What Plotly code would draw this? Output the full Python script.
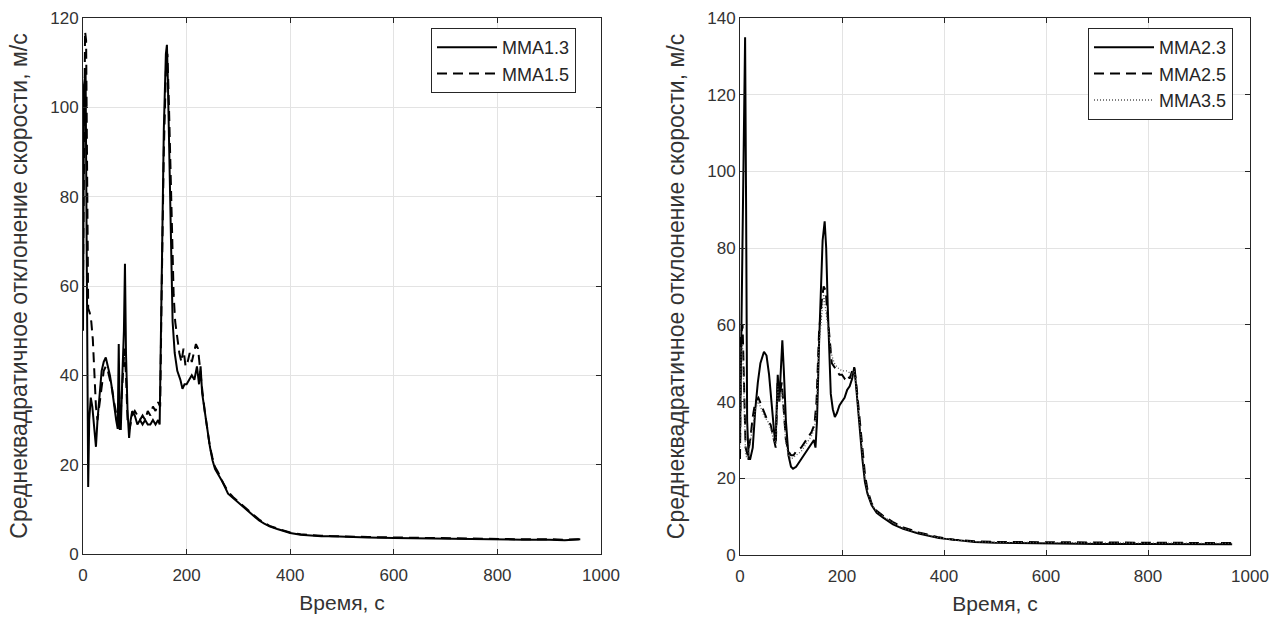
import plotly.graph_objects as go

# ---------------- Left panel data ----------------
t_mma13 = [0, 2, 5, 8, 10, 12, 15, 18, 22, 25, 28, 32, 36, 40, 44, 48, 52, 56, 60, 64, 67,
           69, 71, 73, 76, 79, 81, 83, 86, 89, 92, 95, 100, 105, 110, 115, 120, 125, 130,
           135, 140, 145, 148, 150, 153, 156, 160, 162, 164, 167, 170, 173, 177, 182, 188,
           192, 196, 200, 205, 210, 215, 220, 224, 227, 230, 235, 240, 245, 250, 255, 260,
           270, 280, 290, 300, 310, 320, 330, 340, 350, 360, 375, 390, 400, 420, 440, 460,
           480, 500, 550, 600, 650, 700, 750, 800, 850, 900, 930, 960]
v_mma13 = [50, 105, 108, 60, 15, 30, 35, 33, 28, 24, 30, 36, 41, 43, 44, 42, 40, 37, 33, 30, 28,
           47, 28, 28, 40, 50, 65, 45, 32, 26, 30, 32, 31, 29, 30, 29, 30, 29, 29,
           30, 29, 30, 29, 45, 70, 95, 112, 114, 105, 85, 65, 52, 45, 41, 39,
           37, 38, 38, 39, 40, 39, 42, 38, 42, 36, 32, 27, 24, 21, 19, 18,
           16, 13.5, 12.5, 11.5, 10.5, 9.5, 8.5, 7.5, 6.8, 6.2, 5.6, 5.0, 4.7, 4.3, 4.1, 4.0,
           4.0, 3.9, 3.7, 3.6, 3.5, 3.4, 3.3, 3.3, 3.2, 3.2, 3.1, 3.3]

t_mma15 = [0, 2, 4, 6, 8, 10, 13, 16, 19, 22, 25, 28, 32, 36, 40, 44, 48, 52, 56, 60, 64, 68,
           72, 76, 80, 83, 86, 90, 95, 100, 105, 110, 115, 120, 125, 130, 135, 140, 145, 149,
           152, 156, 160, 163, 166, 169, 172, 175, 178, 182, 186, 190, 194, 198, 202, 206,
           210, 214, 218, 222, 226, 230, 235, 240, 245, 250, 255, 260, 270, 280, 290, 300,
           310, 320, 330, 340, 350, 360, 375, 390, 400, 420, 440, 460, 480, 500, 550, 600,
           650, 700, 750, 800, 850, 900, 930, 960]
v_mma15 = [60, 100, 117, 115, 80, 55, 54, 52, 48, 40, 33, 30, 34, 38, 41, 42, 41, 39, 37, 34, 31, 29,
           30, 38, 46, 40, 30, 28, 31, 32, 31, 30, 31, 30, 32, 31, 33, 32, 34, 33,
           60, 90, 108, 112, 100, 85, 70, 58, 52, 48, 45, 43, 46, 42, 43, 45,
           43, 45, 47, 46, 41, 37, 32, 28, 24, 21.5, 19.5, 18.5, 16, 14, 12.7, 11.7,
           10.7, 9.7, 8.7, 7.7, 7.0, 6.3, 5.7, 5.1, 4.8, 4.4, 4.2, 4.1,
           4.0, 3.9, 3.8, 3.7, 3.6, 3.5, 3.4, 3.4, 3.3, 3.3, 3.2, 3.3]

# ---------------- Right panel data ----------------
t_mma23 = [0, 3, 6, 10, 12, 14, 17, 20, 25, 30, 35, 40, 47, 52, 57, 62, 66, 69, 70, 74, 77,
           80, 83, 86, 90, 95, 100, 104, 110, 115, 120, 125, 130, 135, 140, 145, 148, 151,
           155, 159, 162, 166, 169, 172, 175, 178, 182, 186, 190, 195, 200, 205, 210, 215,
           220, 224, 227, 230, 235, 240, 245, 250, 258, 268, 280, 290, 300, 320, 350, 390,
           420, 460, 500, 550, 600, 700, 800, 900, 965]
v_mma23 = [30, 60, 100, 135, 90, 35, 25, 25, 28, 38, 45, 50, 53, 52, 47, 40, 33, 29, 30, 47, 40,
           50, 56, 48, 35, 26, 23, 22.5, 23, 24, 25, 26, 27, 28, 29, 30, 28, 35,
           55, 72, 82, 87, 80, 65, 50, 42, 38, 36, 37, 39, 40, 41, 43, 44,
           46, 49, 45, 40, 33, 25, 19, 16, 13, 11, 9.8, 9.0, 8.0, 6.8, 5.6, 4.4,
           3.9, 3.4, 3.2, 3.1, 3.0, 2.9, 2.9, 2.8, 2.8]

t_mma25 = [0, 2, 5, 8, 11, 15, 20, 25, 30, 36, 42, 48, 54, 60, 66, 70, 74, 78, 82, 86, 90,
           95, 100, 105, 110, 120, 130, 140, 146, 150, 155, 160, 164, 168, 172, 176, 180,
           185, 190, 195, 200, 205, 210, 215, 220, 224, 227, 230, 235, 240, 245, 250, 258,
           268, 280, 300, 320, 350, 390, 420, 460, 500, 600, 700, 800, 900, 965]
v_mma25 = [25, 57, 60, 45, 28, 26, 30, 36, 40, 41, 39, 37, 35, 34, 30, 28, 46, 42, 45, 38, 30,
           27, 26, 26, 27, 28, 30, 32, 34, 40, 58, 66, 70, 69, 62, 55, 50,
           49, 48, 47, 47, 46, 47, 46, 48, 49, 46, 42, 35, 27, 21, 17, 13.5,
           11.5, 10.3, 8.6, 7.2, 5.9, 4.6, 4.0, 3.6, 3.4, 3.3, 3.2, 3.2, 3.1, 3.1]

t_mma35 = [0, 2, 5, 8, 11, 15, 20, 25, 30, 36, 42, 48, 54, 60, 66, 70, 74, 78, 82, 86, 90,
           95, 100, 110, 120, 130, 140, 146, 150, 155, 160, 164, 168, 172, 176, 180, 185,
           190, 200, 210, 220, 224, 227, 230, 235, 240, 245, 250, 258, 268, 280, 300, 320,
           350, 390, 420, 460, 500, 600, 700, 800, 900, 965]
v_mma35 = [28, 52, 55, 40, 26, 25, 29, 34, 38, 40, 38, 36, 35, 33, 30, 29, 44, 40, 43, 36, 29,
           26, 25, 26, 27, 29, 31, 33, 38, 55, 63, 68, 64, 60, 56, 52, 50,
           49, 48, 48, 47, 48, 45, 41, 34, 26, 20, 16.5, 13.3, 11.3, 10.1, 8.4, 7.0,
           5.8, 4.5, 3.9, 3.5, 3.3, 3.2, 3.1, 3.1, 3.0, 3.0]

x_ticks = [0, 200, 400, 600, 800, 1000]
y_ticks_left = [0, 20, 40, 60, 80, 100, 120]
y_ticks_right = [0, 20, 40, 60, 80, 100, 120, 140]

x_title = "Время, с"
y_title = "Среднеквадратичное отклонение скорости, м/с"

FONT = "Liberation Sans, Arial, sans-serif"
W, H = 1288, 619
TICK_SIZE = 17
XTITLE_SIZE = 21
YTITLE_SIZE = 23
LEG_SIZE = 18

fig = go.Figure()

fig.add_trace(go.Scatter(x=t_mma13, y=v_mma13, name="MMA1.3", mode="lines",
                         line=dict(color="black", width=2), xaxis="x", yaxis="y",
                         legend="legend"))
fig.add_trace(go.Scatter(x=t_mma15, y=v_mma15, name="MMA1.5", mode="lines",
                         line=dict(color="black", width=2, dash="10px,6px"),
                         xaxis="x", yaxis="y", legend="legend"))

fig.add_trace(go.Scatter(x=t_mma23, y=v_mma23, name="MMA2.3", mode="lines",
                         line=dict(color="black", width=2), xaxis="x2", yaxis="y2",
                         legend="legend2"))
fig.add_trace(go.Scatter(x=t_mma25, y=v_mma25, name="MMA2.5", mode="lines",
                         line=dict(color="black", width=2, dash="10px,6px"),
                         xaxis="x2", yaxis="y2", legend="legend2"))
fig.add_trace(go.Scatter(x=t_mma35, y=v_mma35, name="MMA3.5", mode="lines",
                         line=dict(color="#555555", width=1.3, dash="1px,2px"),
                         xaxis="x2", yaxis="y2", legend="legend2"))

def px_x(p):
    return p / W

def px_y(p):
    return 1 - p / H

common_axis = dict(
    showline=True, linecolor="#262626", linewidth=1, mirror="ticks",
    ticks="inside", ticklen=5, tickcolor="#262626",
    showgrid=True, gridcolor="#e3e3e3", gridwidth=1,
    zeroline=False, automargin=False,
    tickfont=dict(family=FONT, size=TICK_SIZE, color="#333333"),
)
xtitle_font = dict(family=FONT, size=XTITLE_SIZE, color="#333333")
ytitle_font = dict(family=FONT, size=YTITLE_SIZE, color="#333333")

fig.update_layout(
    width=W, height=H,
    margin=dict(l=0, r=0, t=0, b=0),
    paper_bgcolor="white", plot_bgcolor="white",
    font=dict(family=FONT, size=TICK_SIZE, color="#262626"),
    xaxis=dict(domain=[px_x(83), px_x(601)], range=[0, 1000], tickvals=x_ticks,
               anchor="y", ticklabelstandoff=6,
               title=dict(text=x_title, font=xtitle_font, standoff=10),
               **common_axis),
    yaxis=dict(domain=[px_y(554), px_y(18)], range=[0, 120], tickvals=y_ticks_left,
               anchor="x", title=dict(text=y_title, font=ytitle_font, standoff=16),
               **common_axis),
    xaxis2=dict(domain=[px_x(740), px_x(1250)], range=[0, 1000], tickvals=x_ticks,
                anchor="y2", ticklabelstandoff=6,
                title=dict(text=x_title, font=xtitle_font, standoff=10),
                **common_axis),
    yaxis2=dict(domain=[px_y(555), px_y(18)], range=[0, 140], tickvals=y_ticks_right,
                anchor="x2", title=dict(text=y_title, font=ytitle_font, standoff=16),
                **common_axis),
    legend=dict(x=px_x(576), y=px_y(28), xanchor="right", yanchor="top",
                bgcolor="white", bordercolor="#262626", borderwidth=1,
                font=dict(family=FONT, size=LEG_SIZE, color="#262626"),
                tracegroupgap=0, itemwidth=60),
    legend2=dict(x=px_x(1233), y=px_y(28), xanchor="right", yanchor="top",
                 bgcolor="white", bordercolor="#262626", borderwidth=1,
                 font=dict(family=FONT, size=LEG_SIZE, color="#262626"),
                 tracegroupgap=0, itemwidth=60),
    showlegend=True,
)

fig.write_html("out.html", config={"displayModeBar": False},
               post_script="document.body.style.margin='0';document.body.style.overflow='hidden';")
